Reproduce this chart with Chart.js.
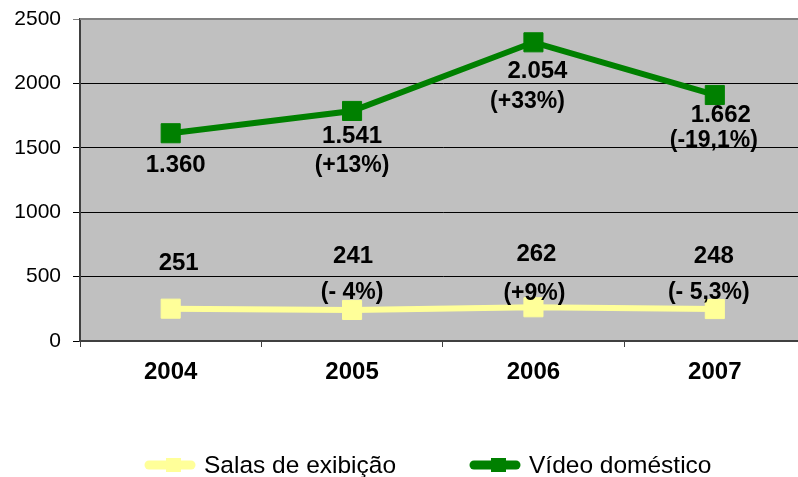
<!DOCTYPE html>
<html>
<head>
<meta charset="utf-8">
<script src="https://cdn.jsdelivr.net/npm/chart.js@4/dist/chart.umd.min.js"></script>
<style>
  html, body { margin: 0; padding: 0; background: #fff; overflow: hidden; }
  #wrap { width: 820px; height: 477px; }
  #chart { width: 820px; height: 477px; }
</style>
</head>
<body>
<div id="wrap"><canvas id="chart" width="820" height="477"></canvas></div>
<script>
// Chart data
let years = ["2004", "2005", "2006", "2007"];

let salasValues = [251, 241, 262, 248];
let videoValues = [1613, 1786, 2319, 1910];

let salasLabels = ["251", "241", "262", "248"];
let salasChange = ["", "(- 4%)", "(+9%)", "(- 5,3%)"];
let videoLabels = ["1.360", "1.541", "2.054", "1.662"];
let videoChange = ["", "(+13%)", "(+33%)", "(-19,1%)"];

let seriesNames = ["Salas de exibição", "Vídeo doméstico"];

// Label offsets from each point (dx, dy)
let salasLabelPos = [[8, -45], [1, -54], [3, -53], [-1, -53]];
let salasChangePos = [[0, 0], [0, -17], [1, -14], [-6, -16]];
let videoLabelPos = [[5, 32], [0, 25], [4, 29], [6, 20]];
let videoChangePos = [[0, 0], [0, 55], [-6, 59], [-1, 46]];

let fontFamily = "'Liberation Sans', Arial, sans-serif";
let yellow = "#FFFF99";
let green = "#008000";

// Gray plot area + top border
let plotBackground = {
  id: "plotBackground",
  beforeDraw(chart) {
    let a = chart.chartArea;
    let ctx = chart.ctx;
    ctx.save();
    ctx.fillStyle = "#C0C0C0";
    ctx.fillRect(a.left, a.top, a.right - a.left, a.bottom - a.top);
    ctx.restore();
  },
  beforeDatasetsDraw(chart) {
    let a = chart.chartArea;
    let ctx = chart.ctx;
    ctx.save();
    ctx.strokeStyle = "#808080";
    ctx.lineWidth = 2;
    ctx.beginPath();
    ctx.moveTo(a.left, a.top);
    ctx.lineTo(a.right, a.top);
    ctx.stroke();
    ctx.restore();
  },
};

// Value and change labels next to points
function drawLabels(ctx, meta, texts, offsets, size) {
  ctx.font = "bold " + size + "px " + fontFamily;
  meta.data.forEach(function (pt, i) {
    if (!texts[i]) return;
    ctx.fillText(texts[i], pt.x + offsets[i][0], pt.y + offsets[i][1]);
  });
}

let pointLabels = {
  id: "pointLabels",
  afterDatasetsDraw(chart) {
    let ctx = chart.ctx;
    ctx.save();
    ctx.fillStyle = "#000";
    ctx.textAlign = "center";
    ctx.textBaseline = "middle";
    let m0 = chart.getDatasetMeta(0);
    let m1 = chart.getDatasetMeta(1);
    drawLabels(ctx, m0, salasLabels, salasLabelPos, 24);
    drawLabels(ctx, m0, salasChange, salasChangePos, 23);
    drawLabels(ctx, m1, videoLabels, videoLabelPos, 24);
    drawLabels(ctx, m1, videoChange, videoChangePos, 23);
    ctx.restore();
  },
};

// Legend drawn by hand: thick line, square marker, text
let customLegend = {
  id: "customLegend",
  afterDraw(chart) {
    let ctx = chart.ctx;
    let items = [
      { color: yellow, x: 145, text: seriesNames[0] },
      { color: green, x: 470, text: seriesNames[1] },
    ];
    let y = 465;
    ctx.save();
    items.forEach(function (it) {
      ctx.strokeStyle = it.color;
      ctx.lineWidth = 9;
      ctx.lineCap = "round";
      ctx.beginPath();
      ctx.moveTo(it.x + 4, y);
      ctx.lineTo(it.x + 46, y);
      ctx.stroke();
      ctx.fillStyle = it.color;
      ctx.fillRect(it.x + 21, y - 7, 15, 14);
      ctx.fillStyle = "#000";
      ctx.font = "24.5px " + fontFamily;
      ctx.textAlign = "left";
      ctx.textBaseline = "middle";
      ctx.fillText(it.text, it.x + 59, y + 1);
    });
    ctx.restore();
  },
};

// Drop the automatic label overflow padding so layout.padding alone sets the plot box
function noScalePadding(scale) {
  scale.paddingTop = 0;
  scale.paddingBottom = 0;
  scale.paddingLeft = 0;
  scale.paddingRight = 0;
}

let ctx = document.getElementById("chart").getContext("2d");

new Chart(ctx, {
  type: "line",
  data: {
    labels: years,
    datasets: [
      {
        label: seriesNames[0],
        data: salasValues,
        borderColor: yellow,
        backgroundColor: yellow,
        borderWidth: 6,
        pointStyle: "rect",
        pointRadius: 13.5,
        pointBorderWidth: 1,
        pointBorderColor: yellow,
        pointBackgroundColor: yellow,
        tension: 0,
      },
      {
        label: seriesNames[1],
        data: videoValues,
        borderColor: green,
        backgroundColor: green,
        borderWidth: 6,
        pointStyle: "rect",
        pointRadius: 13.5,
        pointBorderWidth: 1,
        pointBorderColor: green,
        pointBackgroundColor: green,
        tension: 0,
      },
    ],
  },
  options: {
    responsive: false,
    animation: false,
    devicePixelRatio: 1,
    layout: { padding: { top: 19, right: 1, bottom: 86, left: 0 } },
    plugins: {
      legend: { display: false },
      tooltip: { enabled: false },
    },
    scales: {
      x: {
        offset: true,
        afterFit: function (scale) {
          scale.height = 50;
          noScalePadding(scale);
        },
        grid: {
          offset: true,
          drawOnChartArea: false,
          drawTicks: true,
          tickLength: 6,
          color: "#404040",
          lineWidth: 1,
        },
        border: { color: "#404040", width: 2 },
        ticks: {
          color: "#000",
          padding: 11,
          font: { family: fontFamily, size: 24, weight: "bold" },
        },
      },
      y: {
        min: 0,
        max: 2500,
        afterFit: function (scale) {
          scale.width = 80;
          noScalePadding(scale);
        },
        grid: {
          color: function (c) { return c.tick && c.tick.value === 2500 ? "#808080" : "#000"; },
          lineWidth: 1,
          tickLength: 7,
        },
        border: { color: "#404040", width: 2 },
        ticks: {
          stepSize: 500,
          color: "#000",
          padding: 12,
          font: { family: fontFamily, size: 21 },
          callback: function (v) { return String(v); },
        },
      },
    },
  },
  plugins: [plotBackground, pointLabels, customLegend],
});
</script>
</body>
</html>
